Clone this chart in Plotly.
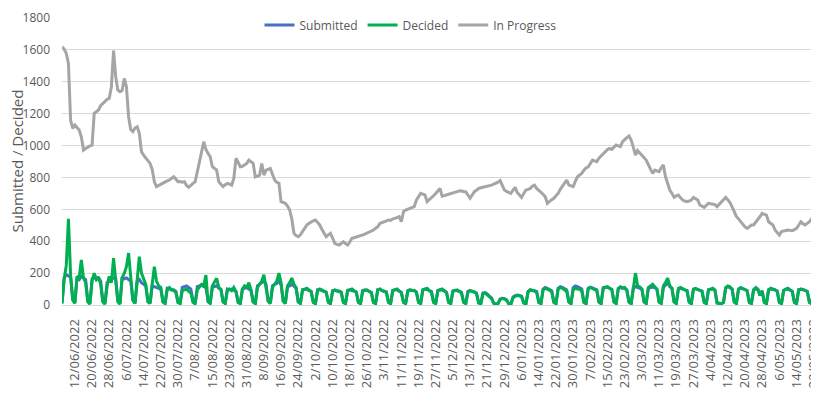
import datetime as dt
import plotly.graph_objects as go

start_date = "2022-06-06"
n_days = 353

in_progress = [
    1620, 1605, 1578, 1515, 1160, 1108, 1129,
    1110, 1097, 1055, 972, 982, 993, 998,
    1003, 1202, 1212, 1223, 1250, 1265, 1281,
    1290, 1296, 1369, 1595, 1432, 1348, 1338,
    1345, 1421, 1369, 1181, 1100, 1087, 1110,
    1118, 1077, 961, 940, 920, 905, 888,
    850, 773, 742, 750, 755, 763, 770,
    778, 784, 795, 804, 790, 773, 775,
    770, 773, 750, 738, 752, 763, 773,
    830, 888, 960, 1024, 975, 951, 930,
    867, 855, 846, 773, 760, 742, 755,
    763, 758, 752, 794, 920, 895, 867,
    870, 880, 888, 909, 899, 888, 804,
    810, 815, 888, 815, 846, 850, 857,
    820, 784, 770, 763, 648, 645, 638,
    620, 596, 540, 450, 435, 428, 440,
    460, 480, 502, 512, 522, 528, 533,
    520, 502, 475, 450, 428, 440, 450,
    420, 387, 380, 376, 385, 397, 385,
    376, 395, 418, 422, 425, 428, 435,
    439, 445, 455, 460, 465, 470, 481,
    490, 512, 515, 522, 528, 533, 530,
    540, 543, 550, 554, 522, 585, 595,
    600, 606, 612, 617, 658, 680, 700,
    695, 690, 648, 660, 669, 685, 700,
    715, 731, 683, 685, 690, 695, 700,
    700, 705, 711, 715, 717, 711, 711,
    690, 669, 690, 711, 720, 731, 735,
    738, 742, 744, 746, 752, 758, 763,
    770, 780, 750, 721, 712, 705, 700,
    720, 738, 705, 690, 675, 700, 721,
    725, 731, 745, 752, 731, 720, 711,
    695, 679, 638, 650, 660, 669, 685,
    700, 725, 745, 770, 784, 752, 748,
    742, 775, 804, 815, 825, 845, 860,
    867, 890, 909, 904, 899, 920, 935,
    951, 965, 975, 982, 976, 990, 1003,
    998, 993, 1024, 1040, 1050, 1060, 1035,
    990, 940, 969, 955, 940, 925, 909,
    880, 855, 825, 846, 840, 836, 860,
    878, 804, 760, 721, 700, 675, 685,
    690, 672, 658, 652, 648, 652, 658,
    675, 665, 658, 627, 620, 612, 625,
    638, 635, 633, 630, 617, 632, 648,
    660, 675, 660, 643, 615, 585, 556,
    540, 522, 505, 490, 481, 492, 502,
    502, 518, 533, 555, 575, 570, 564,
    522, 510, 502, 470, 455, 439, 460,
    465, 468, 470, 468, 466, 472, 481,
    500, 522, 510, 502, 512, 522, 540,
    564, 575, 585,
]

submitted = [
    10, 170, 190, 180, 175, 40, 15,
    170, 160, 180, 170, 160, 30, 10,
    165, 175, 160, 170, 150, 25, 10,
    140, 150, 160, 170, 165, 30, 10,
    175, 165, 170, 160, 150, 30, 10,
    150, 160, 140, 130, 120, 25, 10,
    120, 115, 110, 105, 100, 20, 10,
    105, 100, 95, 95, 85, 20, 10,
    110, 115, 120, 110, 100, 25, 10,
    115, 120, 125, 115, 110, 25, 10,
    110, 115, 120, 105, 100, 20, 10,
    100, 95, 100, 90, 85, 20, 10,
    100, 105, 110, 100, 90, 20, 10,
    120, 130, 140, 150, 130, 25, 10,
    120, 130, 135, 150, 125, 25, 10,
    115, 120, 130, 115, 105, 20, 10,
    95, 100, 100, 90, 85, 20, 10,
    95, 95, 90, 85, 80, 20, 10,
    90, 92, 88, 85, 80, 18, 10,
    92, 95, 90, 88, 82, 18, 10,
    90, 95, 92, 86, 80, 18, 10,
    95, 98, 92, 88, 82, 20, 10,
    92, 96, 95, 90, 80, 18, 10,
    90, 95, 92, 90, 82, 18, 10,
    95, 100, 98, 92, 85, 20, 10,
    92, 96, 95, 90, 80, 18, 10,
    88, 92, 90, 86, 80, 18, 10,
    85, 90, 88, 82, 75, 15, 8,
    75, 78, 70, 55, 45, 12, 6,
    8, 38, 42, 40, 32, 8, 5,
    50, 58, 62, 60, 55, 14, 8,
    85, 95, 92, 90, 85, 18, 10,
    100, 110, 105, 100, 90, 20, 10,
    105, 115, 110, 105, 95, 20, 10,
    110, 120, 115, 110, 100, 20, 10,
    105, 112, 108, 102, 95, 20, 10,
    108, 112, 110, 106, 98, 20, 10,
    105, 110, 108, 105, 95, 20, 10,
    105, 115, 110, 108, 100, 20, 10,
    105, 110, 112, 108, 100, 20, 10,
    110, 125, 140, 115, 105, 20, 10,
    100, 105, 100, 95, 90, 18, 10,
    98, 102, 96, 94, 88, 18, 10,
    95, 100, 100, 92, 15, 12, 8,
    18, 105, 115, 110, 100, 20, 10,
    100, 105, 102, 98, 90, 18, 10,
    95, 100, 98, 60, 88, 18, 10,
    95, 100, 98, 95, 88, 18, 10,
    92, 98, 100, 94, 86, 18, 10,
    95, 98, 96, 92, 86, 18, 10,
    92, 98, 100,
]

decided = [
    10, 160, 250, 540, 190, 30, 10,
    180, 170, 282, 170, 140, 20, 5,
    150, 200, 160, 175, 130, 20, 5,
    120, 180, 140, 294, 150, 20, 5,
    170, 200, 240, 326, 200, 30, 10,
    180, 303, 200, 160, 130, 20, 10,
    130, 240, 150, 120, 110, 20, 10,
    100, 110, 95, 90, 80, 15, 10,
    90, 95, 100, 85, 75, 15, 8,
    95, 110, 130, 120, 188, 20, 10,
    120, 140, 167, 110, 95, 20, 10,
    95, 100, 90, 110, 85, 15, 8,
    100, 120, 110, 140, 95, 20, 10,
    110, 130, 150, 190, 120, 25, 10,
    110, 130, 150, 200, 140, 25, 10,
    120, 140, 169, 130, 110, 20, 10,
    95, 100, 105, 95, 85, 15, 8,
    90, 100, 95, 90, 80, 15, 8,
    85, 95, 90, 88, 80, 15, 8,
    90, 95, 100, 90, 80, 15, 8,
    88, 92, 95, 85, 78, 15, 8,
    95, 100, 90, 85, 80, 15, 8,
    90, 95, 100, 88, 75, 15, 8,
    85, 95, 90, 92, 80, 15, 8,
    95, 100, 105, 90, 80, 15, 8,
    90, 95, 100, 88, 78, 15, 8,
    85, 90, 95, 85, 75, 15, 8,
    80, 90, 85, 80, 70, 12, 8,
    70, 75, 65, 50, 40, 10, 5,
    10, 35, 40, 38, 30, 8, 5,
    45, 55, 60, 58, 50, 12, 6,
    80, 95, 90, 88, 80, 15, 8,
    95, 105, 100, 95, 85, 15, 8,
    100, 110, 105, 95, 85, 18, 8,
    95, 105, 100, 98, 88, 15, 8,
    100, 110, 105, 100, 90, 18, 8,
    105, 110, 115, 105, 95, 18, 10,
    100, 115, 105, 110, 90, 18, 8,
    110, 200, 120, 115, 100, 20, 10,
    110, 120, 130, 115, 100, 18, 10,
    120, 140, 169, 120, 105, 20, 10,
    105, 110, 100, 95, 90, 18, 8,
    100, 105, 98, 95, 85, 15, 8,
    95, 100, 105, 95, 12, 10, 8,
    15, 110, 120, 115, 100, 18, 10,
    100, 110, 105, 100, 90, 15, 8,
    95, 110, 100, 60, 90, 15, 8,
    95, 105, 100, 95, 85, 15, 8,
    90, 100, 105, 95, 85, 15, 8,
    95, 100, 98, 92, 85, 15, 8,
    90, 100, 95,
]

tick_start = "2022-06-12"
tick_step_days = 8
n_ticks = 44
y_title = "Submitted / Decided"

d0 = dt.date.fromisoformat(start_date)
dates = [(d0 + dt.timedelta(days=i)).isoformat() for i in range(n_days)]
t0 = dt.date.fromisoformat(tick_start)
tick_dates = [t0 + dt.timedelta(days=tick_step_days * k) for k in range(n_ticks)]
tick_vals = [d.isoformat() for d in tick_dates]
tick_text = [f"{d.day}/{d.month:02d}/{d.year}" for d in tick_dates]

fig = go.Figure()
fig.add_trace(go.Scatter(x=dates, y=submitted, mode="lines", name="Submitted",
                         line=dict(color="#4472C4", width=3)))
fig.add_trace(go.Scatter(x=dates, y=decided, mode="lines", name="Decided",
                         line=dict(color="#00B050", width=3)))
fig.add_trace(go.Scatter(x=dates, y=in_progress, mode="lines", name="In Progress",
                         line=dict(color="#A5A5A5", width=3)))

font_family = "Open Sans, DejaVu Sans, sans-serif"
# the page body adds an 8px margin, so the figure is 8px smaller each way
fig.update_layout(
    width=811, height=398,
    margin=dict(l=54, r=1, t=10, b=101, autoexpand=False),
    paper_bgcolor="white", plot_bgcolor="white",
    font=dict(family=font_family, color="#595959", size=12),
    showlegend=True,
    legend=dict(orientation="h", x=0.461, xanchor="center", y=0.976, yanchor="middle",
                font=dict(size=12, color="#595959"), bgcolor="rgba(0,0,0,0)",
                itemwidth=30, tracegroupgap=0),
    annotations=[dict(text=y_title, xref="paper", yref="paper", x=0, y=0.5,
                      xanchor="center", yanchor="middle", xshift=-46, textangle=-90,
                      showarrow=False, font=dict(size=15, color="#595959"))],
)
fig.update_xaxes(
    type="date", range=[dates[0], dates[-1]], automargin=False,
    tickmode="array", tickvals=tick_vals, ticktext=tick_text,
    tickangle=-90, tickfont=dict(size=13, color="#595959"),
    showgrid=False, showline=True, linecolor="#D9D9D9", linewidth=1,
    ticks="", ticklabelstandoff=8, ticklabeloverflow="allow",
)
fig.update_yaxes(
    range=[0, 1800], dtick=200, tickfont=dict(size=12, color="#595959"),
    showgrid=True, gridcolor="#D9D9D9", gridwidth=1, zeroline=False,
    ticklabelstandoff=11, automargin=False,
)
fig.write_html("out.html")
